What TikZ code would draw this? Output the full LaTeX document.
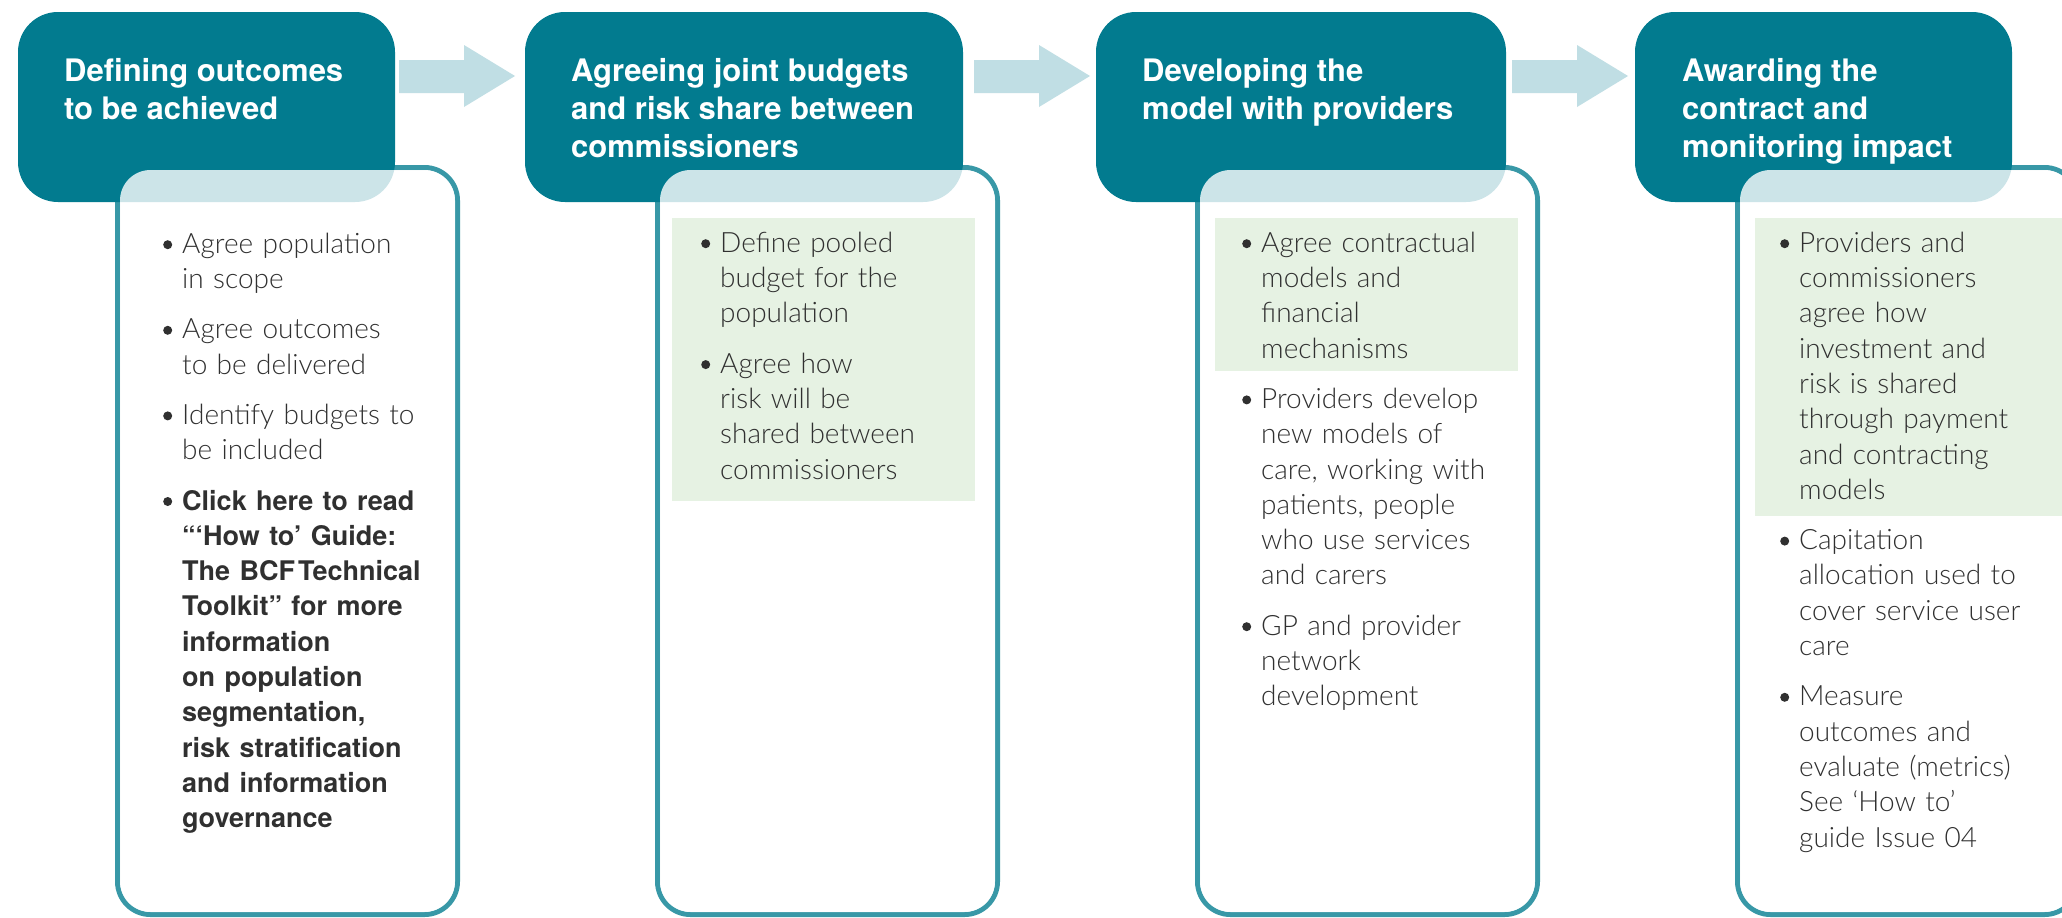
\documentclass[tikz,border=0pt]{standalone}
\usepackage{fontspec}
\setmainfont{TeX Gyre Heros}
\newfontfamily\lightfont{Lato Light}
\usetikzlibrary{calc}

\definecolor{hdteal}{RGB}{2,123,143}
\definecolor{boxline}{RGB}{56,152,167}
\definecolor{arrowblue}{RGB}{192,222,228}
\definecolor{paleGreen}{RGB}{230,242,227}
\definecolor{bodygray}{RGB}{48,48,48}

% round bullet followed by a hanging-indented item
\newcommand\bul{\tikz[baseline=0pt]\fill[bodygray] (4.5pt,8.5pt) circle[radius=4.5pt];}
\newcommand\bitem[1]{\noindent\hangindent=18pt\hangafter=1\makebox[18pt][l]{\hspace{-1pt}\bul}\rule{0pt}{24pt}#1\par}
\newcommand\bsep{\vskip15pt}

\begin{document}
\begin{tikzpicture}[x=1pt,y=-1pt,
  hdr/.style={fill=hdteal, draw=none, rounded corners=40, anchor=north west, inner sep=0, outer sep=0},
  bodybox/.style={draw=boxline, line width=5, fill=white, rounded corners=33, anchor=north west,
                  minimum width=340, minimum height=747, inner sep=0, outer sep=0},
  greenbox/.style={fill=paleGreen, draw=none, anchor=north west, inner sep=0, outer sep=0, minimum width=303},
  hdtext/.style={anchor=north west, inner sep=0, text=white, align=left,
                 font=\bfseries\fontsize{31}{38}\selectfont},
  bodytext/.style={anchor=north west, inner sep=0, text=bodygray, text width=330,
                   execute at begin node={\raggedright\parskip=0pt},
                   font=\lightfont\fontsize{28}{35.3}\selectfont}]

\useasboundingbox (0,0) rectangle (2062,918);
\clip (0,0) rectangle (2062,918);
\fill[white] (0,0) rectangle (2062,918);

% content panels (outline first, step headers drawn over them)
\node[bodybox] (b1) at (117.5,167.5) {};
\node[bodybox] (b2) at (657.5,167.5) {};
\node[bodybox] (b3) at (1197.5,167.5) {};
\node[bodybox] (b4) at (1737.5,167.5) {};

% step headers
\node[hdr, minimum width=377, minimum height=190] (h1) at (18,12) {};
\node[hdr, minimum width=438, minimum height=190] (h2) at (525,12) {};
\node[hdr, minimum width=410, minimum height=190] (h3) at (1096,12) {};
\node[hdr, minimum width=377, minimum height=190] (h4) at (1635,12) {};

% translucent panel interiors where they overlap the headers
\foreach \b in {b1,b2,b3,b4}{
  \fill[white, fill opacity=0.8, rounded corners=30.5]
    ($(\b.north west)+(2.5,2.5)$) rectangle ($(\b.south east)+(-2.5,-2.5)$);
}

% highlighted first items
\node[greenbox, minimum height=283] (g2) at (672,218) {};
\node[greenbox, minimum height=153] (g3) at (1215,218) {};
\node[greenbox, minimum width=310, minimum height=298] (g4) at (1755,218) {};

% block arrows between the steps
\foreach \ax in {399,974,1512}{
  \fill[arrowblue] (\ax,60) -- (\ax+65,60) -- (\ax+65,45) -- (\ax+116,76)
     -- (\ax+65,107) -- (\ax+65,93) -- (\ax,93) -- cycle;
}

% header titles
\node[hdtext] (h1t) at (64,55) {\rule{0pt}{26pt}Defining outcomes\\to be achieved};
\node[hdtext] (h2t) at (571,55) {\rule{0pt}{26pt}Agreeing joint budgets\\and risk share between\\commissioners};
\node[hdtext] (h3t) at (1142,55) {\rule{0pt}{26pt}Developing the\\model with providers};
\node[hdtext] (h4t) at (1682,55) {\rule{0pt}{26pt}Awarding the\\contract and\\monitoring impact};

% panel texts
\node[bodytext] (t1) at (164,229) {%
  \bitem{Agree population\newline in scope}\bsep
  \bitem{Agree outcomes\newline to be delivered}\bsep
  \bitem{Identify budgets to\newline be included}\bsep
  \bitem{\normalfont\bfseries\fontsize{27}{35.3}\selectfont Click here to read\newline “‘How to’ Guide:\newline The BCF\kern3pt Technical\newline Toolkit” for more\newline information\newline on population\newline segmentation,\newline risk stratification\newline and information\newline governance}};

\node[bodytext] (t2) at (702,228) {%
  \bitem{Define pooled\newline budget for the\newline population}\bsep
  \bitem{Agree how\newline risk will be\newline shared between\newline commissioners}};

\node[bodytext] (t3) at (1243,228) {%
  \bitem{Agree contractual\newline models and\newline financial\newline mechanisms}\bsep
  \bitem{Providers develop\newline new models of\newline care, working with\newline patients, people\newline who use services\newline and carers}\bsep
  \bitem{GP and provider\newline network\newline development}};

\node[bodytext] (t4) at (1781,228) {%
  \bitem{Providers and\newline commissioners\newline agree how\newline investment and\newline risk is shared\newline through payment\newline and contracting\newline models}\bsep
  \bitem{Capitation\newline allocation used to\newline cover service user\newline care}\bsep
  \bitem{Measure\newline outcomes and\newline evaluate (metrics)\newline See ‘How to’\newline guide Issue 04}};

\end{tikzpicture}
\end{document}
